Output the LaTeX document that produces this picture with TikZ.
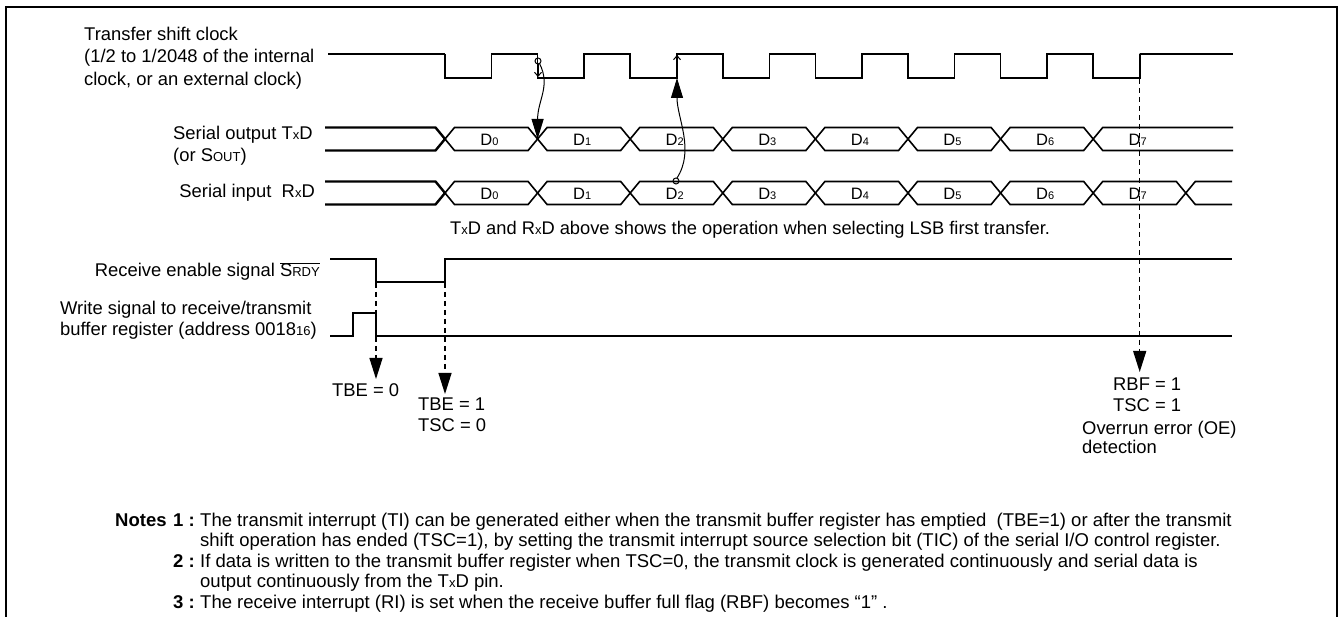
\documentclass[tikz,border=0pt]{standalone}
\usepackage{fontspec}
\setmainfont{Liberation Sans}
\usetikzlibrary{arrows.meta}
\newcommand\tinyx{{\fontsize{13}{13}\selectfont x}}
\newcommand\smcp[1]{{\fontsize{13}{13}\selectfont #1}}
\newcommand\dsub[1]{{\fontsize{11}{11}\selectfont #1}}
\begin{document}
\begin{tikzpicture}[x=1pt,y=-1pt,line join=miter,
  lbl/.style={font=\fontsize{18.4}{22}\selectfont, inner sep=0pt},
  mid/.style={font=\fontsize{18.3}{20}\selectfont, inner sep=0pt},
  dlbl/.style={font=\fontsize{16.5}{16.5}\selectfont, inner sep=0pt, anchor=base},
  note/.style={font=\fontsize{18.5}{20.5}\selectfont, inner sep=0pt, anchor=base west},
  notenum/.style={font=\bfseries\fontsize{18.5}{20.5}\selectfont, inner sep=0pt, anchor=base west},
  sig/.style={line width=1.6pt},
  idle/.style={line width=2.4pt},
  thin/.style={line width=1pt},
  bigtip/.style={-{Triangle[length=20pt,width=12pt]}},
  smalltip/.style={-{Straight Barb[length=4pt,width=7pt]}},
  dasharrow/.style={line width=1.3pt, dash pattern=on 5pt off 4pt, -{Triangle[length=21pt,width=13pt]}}]
\useasboundingbox (0,0) rectangle (1342,617);
% frame
\draw[line width=2.2pt] (6,620) -- (6,7) -- (1337,7) -- (1337,620);

% ---------- clock ----------
\draw[idle] (328,54) -- (445,54);
\draw[sig] (445,54) \foreach \i in {0,...,7}{ -- ({445+92.6*\i},54) -- ({445+92.6*\i},78) -- ({491.5+92.6*\i},78) -- ({491.5+92.6*\i},54) } -- (1139.7,54);
\draw[idle] (1139.7,54) -- (1233,54);

% ---------- TxD bus ----------
\draw[idle] (325,127.5) -- (435.5,127.5) -- (445,139) -- (435.5,150.5) -- (325,150.5);
\foreach \i in {0,...,6}{
  \draw[sig] ({445+92.6*\i},139) -- ({454.5+92.6*\i},127.5) -- ({528.1+92.6*\i},127.5) -- ({537.6+92.6*\i},139) -- ({528.1+92.6*\i},150.5) -- ({454.5+92.6*\i},150.5) -- cycle;
}
\draw[sig] (1233,127.5) -- (1102.7,127.5) -- (1093.2,139) -- (1102.7,150.5) -- (1233,150.5);

% ---------- RxD bus ----------
\draw[idle] (325,181.5) -- (435.5,181.5) -- (445,193) -- (435.5,204.5) -- (325,204.5);
\foreach \i in {0,...,7}{
  \draw[sig] ({445+92.6*\i},193) -- ({454.5+92.6*\i},181.5) -- ({528.1+92.6*\i},181.5) -- ({537.6+92.6*\i},193) -- ({528.1+92.6*\i},204.5) -- ({454.5+92.6*\i},204.5) -- cycle;
}
\draw[sig] (1232,181.5) -- (1195.3,181.5) -- (1185.8,193) -- (1195.3,204.5) -- (1232,204.5);

% data labels
\foreach \i in {0,...,7}{
  \node[dlbl] (tx\i) at ({489.5+92.6*\i},145.7) {D\dsub{\i}};
  \node[dlbl] (rx\i) at ({489.5+92.6*\i},200) {D\dsub{\i}};
}

% ---------- SRDY and write ----------
\draw[sig] (330,259) -- (376,259) -- (376,282) -- (445,282) -- (445,259) -- (1232,259);
\draw[sig] (330,336) -- (353,336) -- (353,313) -- (376,313) -- (376,336) -- (1232,336);

% ---------- causal arrows ----------
\coordinate (fall1) at (538,61);
\coordinate (cross1) at (537.6,139);
\draw[thin] (fall1) circle (3pt);
\draw[thin, smalltip] (538,64) -- (538,77);
\draw[thin, bigtip] (539.5,63.5) .. controls (551,86) and (537.6,100) .. (cross1);

\coordinate (rxc) at (676,181);
\coordinate (rise2) at (677,78);
\coordinate (rise2top) at (677,55);
\draw[thin] (rxc) circle (3pt);
\draw[thin, bigtip] (677,178) .. controls (695,150) and (677,118) .. (rise2);
\draw[thin, smalltip] (rise2) -- (rise2top);

% ---------- dashed arrows ----------
\coordinate (d1s) at (376,283); \coordinate (d1e) at (376,379);
\coordinate (d2s) at (445,283); \coordinate (d2e) at (445,394);
\coordinate (d3s) at (1139.7,79); \coordinate (d3e) at (1139.7,372);
\draw[dasharrow] (d1s) -- (d1e);
\draw[dasharrow] (d2s) -- (d2e);
\draw[dasharrow] (d3s) -- (d3e);

% ---------- signal labels ----------
\node[lbl, anchor=base west] (clkA) at (84,40.5) {Transfer shift clock};
\node[lbl, anchor=base west] (clkB) at (84,63) {(1/2 to 1/2048 of the internal};
\node[lbl, anchor=base west] (clkC) at (84,85.5) {clock, or an external clock)};
\node[lbl, anchor=base west] (txA) at (173,140) {Serial output T\tinyx D};
\node[lbl, anchor=base west] (txB) at (173,162) {(or S\smcp{OUT})};
\node[lbl, anchor=base east] (rxA) at (315,198) {Serial input\ \ R\tinyx D};
\node[lbl, anchor=base east] (srdy) at (320,277) {Receive enable signal $\overline{\hbox{S\smcp{RDY}}}$};
\node[lbl, anchor=base west] (wrA) at (60,315) {Write signal to receive/transmit};
\node[lbl, anchor=base west] (wrB) at (60,336) {buffer register (address 0018\smcp{16})};
\node[mid, anchor=base west] (lsb) at (450,235) {T\tinyx D and R\tinyx D above shows the operation when selecting LSB first transfer.};

\node[lbl, anchor=base west] (tbe0) at (332,397) {TBE = 0};
\node[lbl, anchor=base west] (tbe1) at (418,411) {TBE = 1};
\node[lbl, anchor=base west] (tsc0) at (418,432) {TSC = 0};
\node[lbl, anchor=base west] (rbf) at (1113,391) {RBF = 1};
\node[lbl, anchor=base west] (tsc1) at (1113,412) {TSC = 1};
\node[lbl, anchor=base west] (oe) at (1082,435) {Overrun error (OE)};
\node[lbl, anchor=base west] (det) at (1082,454) {detection};

% ---------- notes ----------
\node[notenum] (notes) at (115,526) {Notes};
\node[notenum] (n1) at (173,526) {1 :};
\node[note] (n1a) at (200,526) {The transmit interrupt (TI) can be generated either when the transmit buffer register has emptied\ \ (TBE=1) or after the transmit};
\node[note] (n1b) at (200,546.5) {shift operation has ended (TSC=1), by setting the transmit interrupt source selection bit (TIC) of the serial I/O control register.};
\node[notenum] (n2) at (173,567) {2 :};
\node[note] (n2a) at (200,567) {If data is written to the transmit buffer register when TSC=0, the transmit clock is generated continuously and serial data is};
\node[note] (n2b) at (200,587.5) {output continuously from the T\tinyx D pin.};
\node[notenum] (n3) at (173,608) {3 :};
\node[note] (n3a) at (200,608) {The receive interrupt (RI) is set when the receive buffer full flag (RBF) becomes “1” .};
\end{tikzpicture}
\end{document}
